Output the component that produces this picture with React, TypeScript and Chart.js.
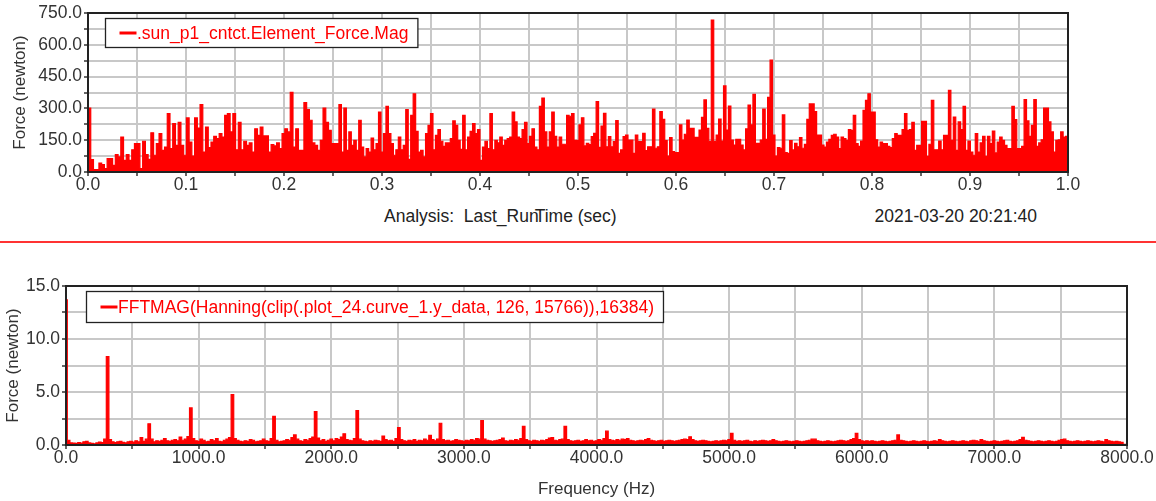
import React, { useEffect, useRef } from 'react';
import { Chart, registerables } from 'chart.js';

Chart.register(...registerables);

const FONT = "'Liberation Sans', Arial, Helvetica, sans-serif";
const TEXT = '#333333';
const GRID = '#c8c8c8';
const RED = '#ff0000';

// Contact force magnitude (newton), one array per quarter second of the run.
const TIME_BOUNDS = [0, 0.251, 0.501, 0.751, 1.0];

const FORCE_Q1 = [
  302, 58, 11, 11, 42, 35, 16, 63, 63, 31,
  82, 71, 165, 55, 82, 55, 105, 134, 134, 16,
  145, 82, 60, 185, 79, 134, 181, 102, 118, 275,
  110, 228, 126, 234, 126, 79, 255, 141, 75, 255,
  207, 318, 94, 212, 115, 141, 168, 157, 181, 165,
  267, 275, 189, 275, 105, 234, 105, 145, 126, 137,
  94, 204, 173, 212, 170, 170, 94, 129, 123, 137,
  110, 181, 204, 189, 376, 118, 204, 102, 102, 327,
  294, 244, 137, 126, 102, 149, 302, 234, 196, 134,
];

const FORCE_Q2 = [
  134, 134, 318, 94, 302, 102, 189, 126, 149, 102,
  244, 118, 71, 110, 94, 160, 105, 134, 283, 94,
  181, 310, 181, 134, 79, 105, 165, 105, 126, 294,
  60, 267, 369, 192, 94, 102, 71, 181, 220, 275,
  105, 173, 200, 145, 121, 137, 137, 157, 241, 220,
  149, 107, 267, 105, 165, 192, 228, 181, 200, 55,
  118, 145, 110, 275, 105, 149, 137, 165, 126, 149,
  157, 165, 283, 236, 165, 157, 200, 234, 134, 168,
  204, 118, 105, 310, 349, 189, 118, 189, 283, 168,
  118, 165, 131, 131, 267, 263, 275, 149, 149,
];

const FORCE_Q3 = [
  222, 256, 123, 135, 129, 167, 182, 332, 116, 217,
  277, 119, 167, 119, 143, 242, 88, 104, 167, 174,
  151, 151, 88, 174, 143, 143, 182, 101, 119, 119,
  297, 112, 119, 285, 248, 148, 75, 162, 96, 91,
  91, 222, 151, 178, 245, 206, 206, 163, 163, 198,
  258, 340, 206, 143, 717, 143, 174, 250, 146, 406,
  198, 311, 151, 127, 154, 154, 127, 104, 203, 316,
  222, 366, 135, 135, 151, 297, 154, 352, 528, 174,
  75, 115, 112, 269, 91, 88, 148, 104, 135, 119,
  162, 112, 130, 248, 321, 321, 285, 174, 174, 127,
];

const FORCE_Q4 = [
  118, 141, 154, 173, 178, 165, 110, 165, 157, 149,
  200, 196, 267, 134, 121, 146, 291, 338, 369, 283,
  283, 152, 118, 141, 134, 134, 121, 115, 157, 181,
  173, 173, 200, 275, 196, 200, 234, 102, 126, 126,
  239, 239, 74, 131, 338, 105, 105, 146, 105, 173,
  173, 385, 149, 259, 102, 236, 200, 310, 102, 146,
  94, 79, 181, 94, 137, 168, 74, 168, 134, 193,
  90, 141, 165, 149, 126, 110, 110, 310, 247, 110,
  110, 121, 341, 241, 168, 220, 341, 121, 137, 152,
  302, 302, 236, 189, 94, 149, 152, 189, 165, 168,
];

// FFT magnitude (newton), evenly spaced bins from 0 to 8000 Hz.
const FFT_MAX_HZ = 8000;
const FFT_MAG = [
  13.7, 0.45, 0.2, 0.18, 0.15, 0.22, 0.18, 0.3, 0.35, 0.2, 0.15, 0.12, 0.2, 0.28, 0.22, 0.55,
  8.35, 0.5, 0.3, 0.22, 0.3, 0.35, 0.25, 0.2, 0.3, 0.35, 0.28, 0.4, 0.3, 0.7, 0.35, 0.55,
  2.0, 0.55, 0.3, 0.4, 0.35, 0.45, 0.6, 0.4, 0.35, 0.45, 0.5, 0.4, 0.75, 0.45, 0.55, 0.8,
  3.5, 0.6, 0.4, 0.35, 0.55, 0.45, 0.3, 0.35, 0.5, 0.4, 0.6, 0.35, 0.3, 0.45, 0.55, 0.7,
  4.75, 0.6, 0.45, 0.35, 0.3, 0.4, 0.35, 0.5, 0.45, 0.3, 0.35, 0.4, 0.55, 0.4, 0.35, 0.6,
  2.7, 0.45, 0.3, 0.35, 0.4, 0.5, 0.45, 0.7, 0.95, 0.55, 0.4, 0.35, 0.5, 0.45, 0.6, 0.75,
  3.15, 0.65, 0.4, 0.5, 0.35, 0.45, 0.55, 0.4, 0.6, 0.5, 0.75, 1.05, 0.5, 0.45, 0.4, 0.6,
  3.25, 0.55, 0.4, 0.35, 0.3, 0.4, 0.35, 0.45, 0.4, 0.35, 0.85, 0.5, 0.4, 0.45, 0.35, 0.6,
  1.65, 0.5, 0.4, 0.35, 0.45, 0.4, 0.5, 0.35, 0.45, 0.4, 0.55, 0.45, 0.9, 0.5, 0.4, 0.55,
  2.05, 0.5, 0.4, 0.45, 0.35, 0.4, 0.5, 0.45, 0.4, 0.35, 0.45, 0.4, 0.5, 0.45, 0.6, 0.55,
  2.3, 0.55, 0.45, 0.4, 0.35, 0.4, 0.45, 0.5, 0.65, 0.4, 0.35, 0.45, 0.4, 0.5, 0.45, 0.6,
  1.75, 0.5, 0.4, 0.35, 0.45, 0.4, 0.35, 0.45, 0.4, 0.5, 0.65, 0.7, 0.45, 0.4, 0.5, 0.55,
  1.75, 0.5, 0.4, 0.35, 0.4, 0.45, 0.35, 0.4, 0.5, 0.4, 0.45, 0.35, 0.4, 0.5, 0.45, 0.6,
  1.3, 0.5, 0.45, 0.4, 0.5, 0.45, 0.55, 0.5, 0.6, 0.45, 0.4, 0.35, 0.4, 0.45, 0.4, 0.5,
  0.6, 0.45, 0.4, 0.35, 0.4, 0.45, 0.35, 0.4, 0.45, 0.4, 0.35, 0.4, 0.45, 0.5, 0.55, 0.5,
  0.78, 0.5, 0.4, 0.35, 0.4, 0.45, 0.4, 0.35, 0.3, 0.35, 0.4, 0.35, 0.4, 0.45, 0.4, 0.5,
  1.09, 0.45, 0.35, 0.4, 0.35, 0.4, 0.45, 0.35, 0.3, 0.4, 0.35, 0.4, 0.45, 0.4, 0.35, 0.4,
  0.5, 0.4, 0.35, 0.3, 0.35, 0.4, 0.35, 0.3, 0.35, 0.4, 0.35, 0.3, 0.35, 0.4, 0.45, 0.55,
  0.55, 0.4, 0.35, 0.3, 0.35, 0.4, 0.35, 0.3, 0.35, 0.4, 0.45, 0.4, 0.35, 0.4, 0.5, 0.6,
  1.09, 0.5, 0.4, 0.35, 0.4, 0.35, 0.4, 0.35, 0.3, 0.35, 0.4, 0.35, 0.3, 0.35, 0.4, 0.45,
  0.95, 0.45, 0.4, 0.35, 0.3, 0.35, 0.4, 0.35, 0.3, 0.35, 0.4, 0.35, 0.3, 0.35, 0.4, 0.35,
  0.5, 0.4, 0.35, 0.3, 0.35, 0.4, 0.35, 0.3, 0.35, 0.4, 0.35, 0.3, 0.4, 0.45, 0.4, 0.35,
  0.5, 0.4, 0.35, 0.3, 0.35, 0.4, 0.35, 0.3, 0.35, 0.4, 0.45, 0.35, 0.3, 0.35, 0.4, 0.5,
  0.72, 0.45, 0.4, 0.35, 0.3, 0.35, 0.4, 0.35, 0.3, 0.35, 0.4, 0.35, 0.3, 0.35, 0.45, 0.5,
  0.55, 0.4, 0.35, 0.3, 0.35, 0.4, 0.35, 0.3, 0.35, 0.4, 0.35, 0.3, 0.35, 0.4, 0.35, 0.3,
  0.5, 0.4, 0.35, 0.3, 0.35, 0.3, 0.25, 0.05, 0,
];

const FORCE_LABEL = '.sun_p1_cntct.Element_Force.Mag';
const FFT_LABEL = 'FFTMAG(Hanning(clip(.plot_24.curve_1.y_data, 126, 15766)),16384)';
const FORCE_Y_TICKS = { min: 0, max: 750, step: 75, labelEvery: 150 };
const TIME_X_TICKS = { min: 0, max: 1, step: 0.05 };
const FFT_Y_TICKS = { min: 0, max: 15, step: 2.5, labelEvery: 5 };
const FFT_X_TICKS = { min: 0, max: 8000, step: 500, labelEvery: 1000 };

function forcePoints() {
  const quarters = [FORCE_Q1, FORCE_Q2, FORCE_Q3, FORCE_Q4];
  const pts: { x: number; y: number }[] = [];
  quarters.forEach((vals, q) => {
    const t0 = TIME_BOUNDS[q];
    const t1 = TIME_BOUNDS[q + 1];
    vals.forEach((v, i) => pts.push({ x: t0 + ((t1 - t0) * i) / vals.length, y: v }));
  });
  pts.push({ x: TIME_BOUNDS[4], y: FORCE_Q4[FORCE_Q4.length - 1] });
  return pts;
}

function fftPoints() {
  const bin = FFT_MAX_HZ / (FFT_MAG.length - 1);
  return FFT_MAG.map((v, i) => ({ x: i * bin, y: v }));
}

// Black frame around the plotting area.
const plotFrame = {
  id: 'plotFrame',
  afterDatasetsDraw(chart: any) {
    const { ctx, chartArea: a } = chart;
    ctx.save();
    ctx.strokeStyle = '#222';
    ctx.lineWidth = 2;
    ctx.strokeRect(a.left, a.top, a.right - a.left, a.bottom - a.top);
    ctx.restore();
  },
};

// Boxed legend inside the plot, upper left.
const boxLegend = {
  id: 'boxLegend',
  afterDraw(chart: any, _args: any, opts: any) {
    const { ctx, chartArea: a } = chart;
    const label = chart.data.datasets[0].label as string;
    ctx.save();
    ctx.font = `17.5px ${FONT}`;
    const tw = ctx.measureText(label).width;
    const x = Math.round(a.left + opts.dx) + 0.5;
    const y = Math.round(a.top + opts.dy) + 0.5;
    const padL = 14;
    const lineLen = 17;
    const w = padL + lineLen + tw + 10;
    const h = opts.h;
    ctx.fillStyle = '#fff';
    ctx.fillRect(x, y, w, h);
    ctx.strokeStyle = '#222';
    ctx.lineWidth = 1.3;
    ctx.strokeRect(x, y, w, h);
    ctx.strokeStyle = RED;
    ctx.lineWidth = 3;
    ctx.beginPath();
    ctx.moveTo(x + padL, y + h / 2);
    ctx.lineTo(x + padL + lineLen, y + h / 2);
    ctx.stroke();
    ctx.fillStyle = RED;
    ctx.textBaseline = 'middle';
    ctx.fillText(label, x + padL + lineLen + 0.5, y + h / 2 + 1);
    ctx.restore();
  },
};

const tickFont = { family: FONT, size: 17.5 };

function gridOpts() {
  return { color: GRID, lineWidth: 2, tickColor: '#333', tickLength: 4, tickWidth: 1.5 };
}

export default function App() {
  const topRef = useRef<HTMLCanvasElement>(null);
  const botRef = useRef<HTMLCanvasElement>(null);

  useEffect(() => {
    document.body.style.margin = '0';
    Chart.defaults.font.family = FONT;

    const top = new Chart(topRef.current!, {
      type: 'line',
      data: {
        datasets: [
          {
            label: FORCE_LABEL,
            data: forcePoints(),
            stepped: 'before',
            fill: 'origin',
            borderColor: RED,
            backgroundColor: RED,
            borderWidth: 1.2,
            pointRadius: 0,
          },
        ],
      },
      options: {
        responsive: false,
        animation: false,
        devicePixelRatio: 1,
        layout: { padding: { left: 0, top: 13, right: 88, bottom: 0 } },
        plugins: {
          legend: { display: false },
          tooltip: { enabled: false },
          boxLegend: { dx: 17, dy: 5, h: 29 },
        } as any,
        scales: {
          x: {
            type: 'linear',
            min: TIME_X_TICKS.min,
            max: TIME_X_TICKS.max,
            afterFit: (s: any) => {
              s.height = 28;
            },
            ticks: {
              stepSize: TIME_X_TICKS.step,
              autoSkip: false,
              maxRotation: 0,
              padding: 0,
              color: TEXT,
              font: { ...tickFont, lineHeight: 1 },
              callback: (v: any) => (Math.round(Number(v) * 100) % 10 === 0 ? Number(v).toFixed(1) : ''),
            },
            grid: gridOpts(),
            border: { display: false },
          },
          y: {
            min: FORCE_Y_TICKS.min,
            max: FORCE_Y_TICKS.max,
            afterFit: (s: any) => {
              s.width = 88;
            },
            ticks: {
              stepSize: FORCE_Y_TICKS.step,
              autoSkip: false,
              padding: 2,
              color: TEXT,
              font: tickFont,
              callback: (v: any) => (Number(v) % FORCE_Y_TICKS.labelEvery === 0 ? Number(v).toFixed(1) : ''),
            },
            title: {
              display: true,
              text: 'Force (newton)',
              color: TEXT,
              font: { family: FONT, size: 17 },
              padding: { top: 10, bottom: 0 },
            },
            grid: gridOpts(),
            border: { display: false },
          },
        },
      },
      plugins: [plotFrame, boxLegend],
    } as any);

    const bot = new Chart(botRef.current!, {
      type: 'line',
      data: {
        datasets: [
          {
            label: FFT_LABEL,
            data: fftPoints(),
            stepped: 'middle',
            fill: 'origin',
            borderColor: RED,
            backgroundColor: RED,
            borderWidth: 1.2,
            pointRadius: 0,
          },
        ],
      },
      options: {
        responsive: false,
        animation: false,
        devicePixelRatio: 1,
        layout: { padding: { left: 0, top: 36, right: 29, bottom: 0 } },
        plugins: {
          legend: { display: false },
          tooltip: { enabled: false },
          boxLegend: { dx: 20, dy: 5, h: 31 },
        } as any,
        scales: {
          x: {
            type: 'linear',
            min: FFT_X_TICKS.min,
            max: FFT_X_TICKS.max,
            afterFit: (s: any) => {
              s.height = 56;
            },
            ticks: {
              stepSize: FFT_X_TICKS.step,
              autoSkip: false,
              maxRotation: 0,
              padding: 0,
              color: TEXT,
              font: { ...tickFont, lineHeight: 1 },
              callback: (v: any) => (Number(v) % FFT_X_TICKS.labelEvery === 0 ? Number(v).toFixed(1) : ''),
            },
            title: {
              display: true,
              text: 'Frequency (Hz)',
              color: TEXT,
              font: { family: FONT, size: 17 },
              padding: { top: 0, bottom: 1 },
            },
            grid: gridOpts(),
            border: { display: false },
          },
          y: {
            min: FFT_Y_TICKS.min,
            max: FFT_Y_TICKS.max,
            afterFit: (s: any) => {
              s.width = 66;
            },
            ticks: {
              stepSize: FFT_Y_TICKS.step,
              autoSkip: false,
              padding: 2,
              color: TEXT,
              font: tickFont,
              callback: (v: any) => (Number(v) % FFT_Y_TICKS.labelEvery === 0 ? Number(v).toFixed(1) : ''),
            },
            title: {
              display: true,
              text: 'Force (newton)',
              color: TEXT,
              font: { family: FONT, size: 17 },
              padding: { top: 3, bottom: 0 },
            },
            grid: gridOpts(),
            border: { display: false },
          },
        },
      },
      plugins: [plotFrame, boxLegend],
    } as any);

    return () => {
      top.destroy();
      bot.destroy();
    };
  }, []);

  const caption: React.CSSProperties = {
    position: 'absolute',
    top: 206,
    fontSize: 17.5,
    lineHeight: '20px',
    color: '#222',
    whiteSpace: 'pre',
    fontFamily: FONT,
  };

  return (
    <div
      style={{
        position: 'absolute',
        left: 0,
        top: 0,
        width: 1156,
        height: 501,
        background: '#fff',
        overflow: 'hidden',
        fontFamily: FONT,
      }}
    >
      <canvas ref={topRef} width={1156} height={200} style={{ position: 'absolute', left: 0, top: 0 }} />
      <div style={{ ...caption, left: 384 }}>
        {'Analysis:  Last_Run'}
        <span style={{ marginLeft: -4 }}>Time (sec)</span>
      </div>
      <div style={{ ...caption, right: 119 }}>2021-03-20 20:21:40</div>
      <div style={{ position: 'absolute', left: 0, top: 241, width: 1156, height: 2, background: '#ff3333' }} />
      <canvas ref={botRef} width={1156} height={251} style={{ position: 'absolute', left: 0, top: 250 }} />
    </div>
  );
}
